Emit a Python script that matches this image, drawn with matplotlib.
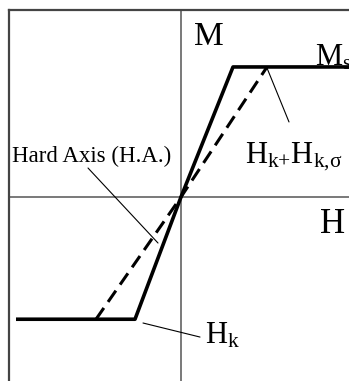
import matplotlib.pyplot as plt

plt.rcParams["font.family"] = ["Liberation Serif", "DejaVu Serif"]
plt.rcParams["mathtext.fontset"] = "custom"
plt.rcParams["mathtext.rm"] = "Liberation Serif"
plt.rcParams["mathtext.it"] = "Liberation Serif:italic"

# solid loop (easy-axis-like with anisotropy field Hk)
solid_h = [-3.3, -0.92, 0.0, 1.04, 3.4]
solid_m = [-0.94, -0.94, 0.0, 1.0, 1.0]

# dashed hard axis curve (Hk + Hk,sigma)
dashed_h = [-1.7, 0.0, 1.72]
dashed_m = [-0.94, 0.0, 1.0]

W, H = 349, 381
fig = plt.figure(figsize=(W / 100, H / 100), dpi=100)
ax = fig.add_axes([9 / W, 0, (W - 9) / W, (H - 10) / H])
ax.set_xlim(-3.44, 3.36)
ax.set_ylim(-1.415, 1.438)

for side in ["right", "bottom"]:
    ax.spines[side].set_visible(False)
for side in ["left", "top"]:
    ax.spines[side].set_color("#444444")
    ax.spines[side].set_linewidth(1.6)
ax.set_xticks([])
ax.set_yticks([])

ax.axvline(0, color="#555555", lw=1.1, zorder=1)
ax.axhline(0, color="#555555", lw=1.1, zorder=1)

ax.plot(solid_h, solid_m, color="black", lw=2.6, solid_capstyle="butt", zorder=3)
ax.plot(dashed_h, dashed_m, color="black", lw=2.2, dashes=(4.5, 2.4), zorder=3)

ax.text(0.26, 1.17, "M", fontsize=24, va="baseline")
ax.text(2.68, 1.015, r"$\mathrm{M_s}$", fontsize=22, va="baseline")
ax.text(2.78, -0.277, "H", fontsize=25, va="baseline")
ax.text(1.28, 0.262, r"$\mathrm{H_{k{+}}H_{k{,}σ}}$", fontsize=22, va="baseline")
ax.text(-3.38, 0.27, "Hard Axis (H.A.)", fontsize=16.5, va="baseline")
ax.text(0.48, -1.123, r"$\mathrm{H_k}$", fontsize=22, va="baseline")

# leader lines
lead = dict(arrowstyle="-", color="black", lw=0.8, shrinkA=0, shrinkB=0)
ax.annotate("", xy=(-0.46, -0.354), xytext=(-1.86, 0.223), arrowprops=lead)
ax.annotate("", xy=(1.72, 0.992), xytext=(2.16, 0.577), arrowprops=lead)
ax.annotate("", xy=(-0.76, -0.969), xytext=(0.38, -1.077), arrowprops=lead)

fig.savefig("out.png", dpi=100)
